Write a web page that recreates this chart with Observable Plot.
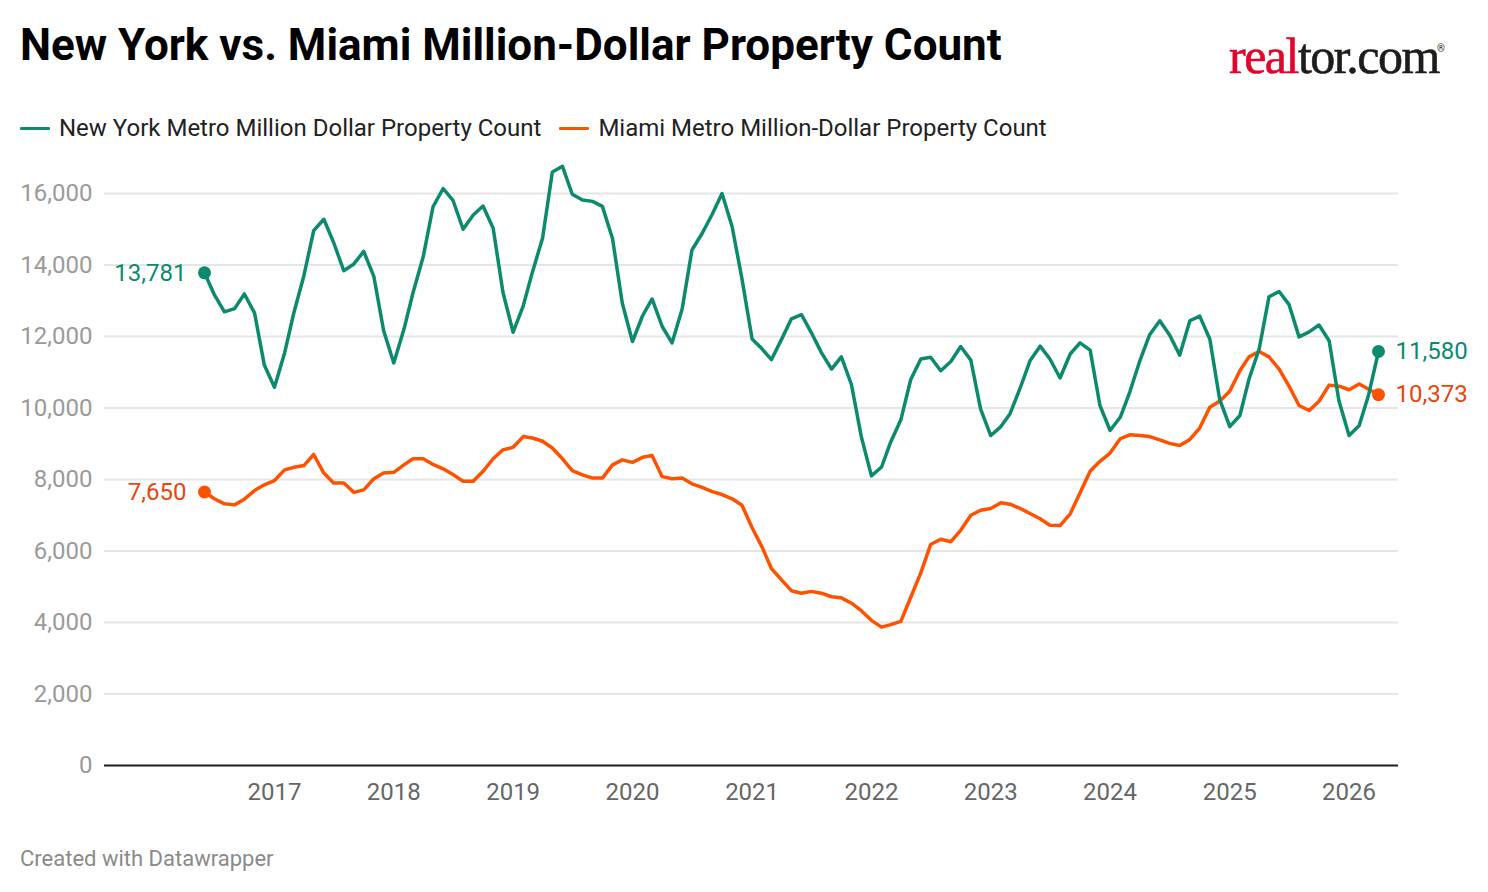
<!DOCTYPE html>
<html>
<head>
<meta charset="utf-8">
<script src="https://cdn.jsdelivr.net/npm/d3@7"></script>
<script src="https://cdn.jsdelivr.net/npm/@observablehq/plot@0.6"></script>
<style>
  html, body { margin: 0; padding: 0; background: #fff; }
  #wrap { position: relative; width: 1488px; height: 892px; overflow: hidden; font-family: Roboto, sans-serif; }
  .abs { position: absolute; white-space: nowrap; }
  #title { left: 20px; top: 23px; font-size: 44px; line-height: 44px; font-weight: 700; color: #000; }
  #logo { left: 1229px; top: 31px; font-family: "Liberation Serif", serif; font-size: 50px; line-height: 50px; letter-spacing: -1.5px; color: #1d1d1b; -webkit-text-stroke: 0.6px currentColor; }
  #logo .red { color: #e1062c; }
  #reg { left: 1437px; top: 44px; font-size: 10px; line-height: 10px; color: #1d1d1b; }
  #legend { left: 20px; top: 116px; font-size: 24px; line-height: 24px; color: #222; display: flex; align-items: center; }
  .item { display: flex; align-items: center; margin-right: 18px; }
  .sw { width: 30px; height: 3px; margin-right: 9px; border-radius: 1px; }
  #footer { left: 20px; top: 848px; font-size: 22px; line-height: 22px; color: #8a8a8a; }
  #chart { position: absolute; left: 0; top: 150px; }
</style>
</head>
<body>
<div id="wrap">
  <div id="title" class="abs">New York vs. Miami Million-Dollar Property Count</div>
  <div id="logo" class="abs"><span class="red">real</span>tor.com</div>
  <div id="reg" class="abs">®</div>
  <div id="legend" class="abs"></div>
  <div id="chart"></div>
  <div id="footer" class="abs">Created with Datawrapper</div>
</div>
<script>
// Monthly series, June 2016 – April 2026
const seriesNames = ["New York Metro Million Dollar Property Count", "Miami Metro Million-Dollar Property Count"];
const seriesColors = ["#0b8a6e", "#ff5200"];
const labelColors = ["#0b8a6e", "#e8460e"];

const nyValues = [
  13781, 13170, 12690, 12780, 13190, 12660, 11200,
  10580, 11540, 12650, 13700, 14960, 15280, 14630, 13840, 14030, 14380, 13680, 12160,
  11260, 12200, 13230, 14230, 15630, 16140, 15810, 15000, 15400, 15650, 15030, 13230,
  12120, 12860, 13800, 14750, 16600, 16760, 15980, 15820, 15780, 15640, 14740, 12930,
  11860, 12580, 13050, 12280, 11820, 12770, 14420, 14880, 15420, 16000, 15070, 13610,
  11930, 11650, 11350, 11920, 12490, 12610, 12110, 11550, 11090, 11430, 10650, 9200,
  8100, 8350, 9050, 9670, 10790, 11370, 11420, 11040, 11300, 11720, 11340, 9970,
  9230, 9480, 9840, 10560, 11320, 11730, 11370, 10840, 11510, 11820, 11620, 10070,
  9370, 9740, 10440, 11320, 12050, 12440, 12040, 11480, 12440, 12570, 11930, 10250,
  9480, 9790, 10810, 11650, 13110, 13260, 12900, 11990, 12130, 12320, 11880, 10200,
  9230, 9510, 10340, 11580
];

const miamiValues = [
  7650, 7460, 7320, 7290, 7450, 7690, 7850,
  7970, 8270, 8340, 8390, 8700, 8180, 7900, 7900, 7640, 7710, 8020, 8180,
  8200, 8410, 8580, 8580, 8420, 8300, 8140, 7950, 7950, 8230, 8580, 8830,
  8900, 9200, 9160, 9070, 8880, 8580, 8250, 8130, 8040, 8040, 8410, 8550,
  8480, 8620, 8670, 8080, 8020, 8040, 7880, 7780, 7660, 7580, 7460, 7280,
  6650, 6100, 5510, 5190, 4890, 4820, 4870, 4820, 4720, 4690, 4540, 4330,
  4060, 3870, 3940, 4030, 4700, 5390, 6180, 6330, 6260, 6580, 7000, 7140,
  7190, 7350, 7310, 7190, 7050, 6900, 6720, 6710, 7040, 7620, 8230, 8510,
  8740, 9140, 9250, 9230, 9200, 9110, 9010, 8950, 9120, 9440, 10020, 10190,
  10470, 11040, 11430, 11580, 11430, 11090, 10620, 10070, 9930, 10190, 10640, 10610,
  10510, 10670, 10530, 10373
];

const yTicks = [0, 2000, 4000, 6000, 8000, 10000, 12000, 14000, 16000];
const xTickYears = [2017, 2018, 2019, 2020, 2021, 2022, 2023, 2024, 2025, 2026];

const months = d3.utcMonth.range(new Date(Date.UTC(2016, 5, 1)), new Date(Date.UTC(2026, 4, 1)));
const xTicks = xTickYears.map(y => new Date(Date.UTC(y, 0, 1)));

const ny = months.map((date, i) => ({date, value: nyValues[i]}));
const miami = months.map((date, i) => ({date, value: miamiValues[i]}));

// Legend
const legend = document.getElementById("legend");
seriesNames.forEach((name, i) => {
  const it = document.createElement("div");
  it.className = "item";
  it.innerHTML = `<div class="sw" style="background:${seriesColors[i]}"></div><span>${name}</span>`;
  legend.appendChild(it);
});

const fmt = d3.format(",");
const ends = (arr) => [arr[0], arr[arr.length - 1]];

const chart = Plot.plot({
  width: 1488,
  height: 680,
  marginLeft: 104,
  marginRight: 90,
  marginTop: 43,
  marginBottom: 65,
  style: {fontFamily: "Roboto, sans-serif", fontSize: "24px", background: "transparent", overflow: "visible"},
  x: {type: "utc", domain: [months[0], months[months.length - 1]], range: [204, 1378]},
  y: {domain: [0, 16000]},
  marks: [
    Plot.gridY(yTicks, {stroke: "#e6e6e6", strokeOpacity: 1, strokeWidth: 2}),
    Plot.axisY(yTicks, {tickSize: 0, tickPadding: 12, tickFormat: fmt, fill: "#9a9a9a", fontSize: 24, label: null}),
    Plot.axisX(xTicks, {tickSize: 0, tickPadding: 17, tickFormat: d3.utcFormat("%Y"), fill: "#666", fontSize: 24, label: null}),
    Plot.ruleY([0], {stroke: "#222", strokeWidth: 2}),
    Plot.line(miami, {x: "date", y: "value", stroke: seriesColors[1], strokeWidth: 3.5}),
    Plot.line(ny, {x: "date", y: "value", stroke: seriesColors[0], strokeWidth: 3.5}),
    Plot.dot(ends(miami), {x: "date", y: "value", r: 6.5, fill: seriesColors[1]}),
    Plot.dot(ends(ny), {x: "date", y: "value", r: 6.5, fill: seriesColors[0]}),
    Plot.text([miami[0]], {x: "date", y: "value", text: d => fmt(d.value), dx: -18, textAnchor: "end", fill: labelColors[1], fontSize: 24}),
    Plot.text([ny[0]], {x: "date", y: "value", text: d => fmt(d.value), dx: -18, textAnchor: "end", fill: labelColors[0], fontSize: 24}),
    Plot.text([miami[miami.length - 1]], {x: "date", y: "value", text: d => fmt(d.value), dx: 17, textAnchor: "start", fill: labelColors[1], fontSize: 24}),
    Plot.text([ny[ny.length - 1]], {x: "date", y: "value", text: d => fmt(d.value), dx: 17, textAnchor: "start", fill: labelColors[0], fontSize: 24})
  ]
});
document.getElementById("chart").appendChild(chart);
</script>
</body>
</html>
